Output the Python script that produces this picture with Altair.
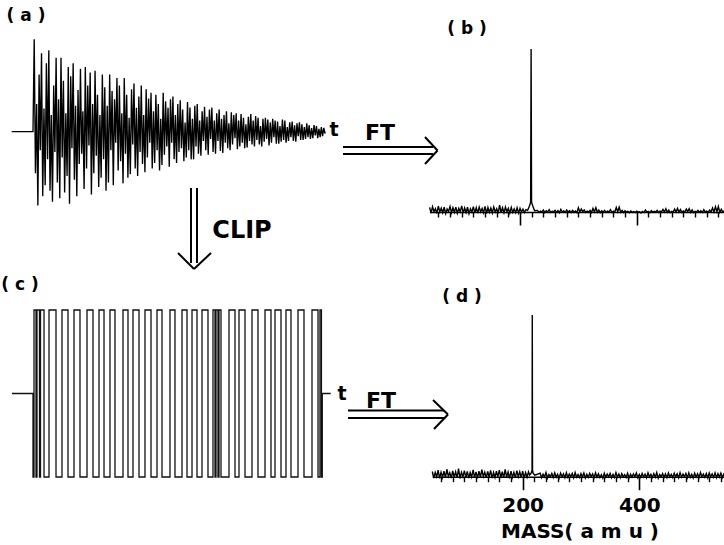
import altair as alt
import pandas as pd

FONT = "DejaVu Sans"

# ---------------- (a) time-domain transient (arbitrary amplitude units) ----------------
sig_a = [
    100, -45, 30, -80, 62, -20, 85, -70, 25, -58,
    74, -30, 88, -64, 18, -76, 50, -22, 80, -55,
    35, -72, 80, -28, 55, -66, 20, -48, 70, -78,
    60, -18, 74, -52, 28, -70, 45, -35, 68, -24,
    22, -62, 70, -40, 50, -15, 64, -68, 30, -45,
    66, -26, 40, -60, 18, -50, 62, -30, 48, -64,
    28, -55, 62, -20, 44, -58, 35, -12, 58, -42,
    50, -32, 20, -56, 58, -24, 40, -50, 15, -46,
    46, -14, 52, -40, 26, -48, 38, -22, 50, -35,
    18, -44, 46, -28, 36, -12, 42, -40, 22, -34,
    40, -20, 30, -42, 14, -36, 42, -25, 33, -16,
    26, -38, 35, -12, 38, -30, 18, -34, 30, -22,
    34, -18, 24, -32, 10, -28, 32, -20, 26, -30,
    14, -30, 28, -16, 30, -24, 12, -26, 22, -10,
    27, -20, 16, -25, 24, -8, 26, -22, 12, -24,
    20, -10, 24, -21, 14, -23, 18, -12, 22, -18,
    9, -20, 21, -14, 18, -7, 20, -19, 12, -16,
    19, -12, 15, -18, 8, -17, 16, -10, 19, -14,
    12, -16, 17, -9, 15, -14, 6, -16, 14, -11,
    15, -8, 13, -15, 10, -12, 14, -6, 12, -13,
    11, -13, 6, -11, 13, -9, 12, -12, 5, -10,
    10, -6, 11, -10, 7, -11, 9, -5, 10, -9,
    8, -9, 5, -8, 9, -6, 7, -8, 4, -7,
    7, -4, 6, -7, 3, -6, 5, -5, 4, -2,
]
sig_step = 100.0 / len(sig_a)
sig_t = [sig_step * (i + 1) for i in range(len(sig_a))]
stub_start_t = -7.3

# ---------------- (c) clipped signal: rising / falling edge times ----------------
clip_up = [0.35, 1.38, 2.6, 5.54, 10.03, 14.19, 18.69, 22.84, 26.64, 31.14, 34.6,
           38.75, 42.91, 47.4, 51.56, 55.02, 58.48, 62.28, 63.32, 64.36, 67.82,
           71.28, 75.78, 80.28, 83.74, 87.54, 91.7, 96.54, 99.3]
clip_down = [1.04, 2.25, 3.81, 7.96, 12.11, 16.26, 20.76, 24.57, 28.37, 32.87, 36.68,
             40.83, 44.64, 49.13, 53.29, 56.75, 60.55, 62.98, 64.01, 65.05, 69.9,
             73.36, 77.85, 82.35, 85.81, 89.27, 93.77, 98.62, 99.8]
clip_end_t = 100.1
clip_stub_end_t = 103.0

# ---------------- (b) and (d) spectra (mass in amu, intensity in % of peak) ----------------
mass_hi_left = list(range(45, 211, 5))
mass_lo_left = [m + 2.5 for m in range(45, 208, 5)]
mass_hi_right = list(range(230, 551, 5))
mass_lo_right = [m + 2.5 for m in range(230, 546, 5)]

b_hi_left = [2.8, 3.2, 2.0, 3.6, 2.4, 3.0, 1.8, 3.4, 2.6, 3.0, 2.2, 3.8, 2.5, 2.9, 2.0, 3.3,
             2.7, 3.0, 2.2, 3.5, 2.8, 2.4, 3.1, 2.0, 4.2, 2.6, 3.0, 2.3, 2.8, 1.9, 2.6, 2.2,
             1.8, 1.5]
b_lo_left = [-0.6, 0.2, -0.9, 0.0, -0.4, -1.0, 0.3, -0.5, -0.2, -0.8, 0.1, -0.6, -0.3, -1.0,
             0.0, -0.5, -0.7, 0.2, -0.4, -0.9, -0.1, -0.6, 0.0, -0.8, -0.3, -0.5, 0.1, -0.7,
             -0.2, -0.4, -0.6, 0.0, -0.3]
b_peak_mass = [213, 216, 218.2, 219, 219.8, 222, 225]
b_peak_int = [1.0, 3.5, 6.0, 100, 6.0, 3.5, 0.8]
b_hi_right = [1.0, 0.6, 1.2, 0.8, 1.4, 0.5, 1.0, 0.9, 1.6, 0.7,
              1.2, 0.8, 1.0, 0.6, 2.6, 1.8, 1.3, 0.6, 1.0, 2.2,
              2.6, 1.2, 0.8, 1.0, 0.6, 1.4, 0.5, 2.8, 3.0, 1.0,
              0.8, 0.4, 0.6, 0.3, 0.5, 0.2, 0.4, 1.2, 0.3, 0.8,
              0.4, 1.0, 0.6, 1.6, 2.0, 1.2, 0.4, 1.8, 2.2, 1.5,
              0.6, 1.8, 2.0, 1.3, 0.4, 1.0, 0.8, 1.4, 0.6, 1.2,
              2.4, 3.2, 3.4, 1.6, 0.8]
b_lo_right = [-0.2, 0.1, -0.4, 0.0, -0.3, 0.2, -0.1, -0.5, 0.0, -0.2,
              0.1, -0.3, 0.0, -0.4, 0.0, 0.2, -0.2, 0.0, -0.3, 0.1,
              -0.1, -0.4, 0.0, -0.2, 0.1, -0.3, 0.0, 0.2, -0.1, -0.3,
              0.0, -0.5, -0.2, -0.4, -0.1, -0.6, -0.3, 0.0, -0.4, -0.2,
              0.0, -0.3, 0.1, 0.0, -0.2, -0.4, 0.0, 0.1, -0.1, -0.3,
              0.0, 0.2, -0.2, -0.4, 0.0, -0.1, -0.3, 0.0, -0.2, 0.1,
              0.0, 0.2, -0.2, -0.1]

d_hi_left = [3.2, 2.6, 4.0, 2.8, 3.4, 4.6, 2.5, 3.6, 3.0, 5.0, 2.7, 3.8, 3.2, 2.6, 4.2, 3.0,
             3.5, 4.4, 2.8, 3.3, 3.9, 2.6, 3.4, 4.0, 3.1, 4.6, 2.9, 3.5, 2.7, 3.8, 3.0, 3.4,
             2.6, 3.0]
d_lo_left = [-0.8, 0.0, -1.0, -0.4, -0.6, 0.2, -0.9, -0.3, -0.7, -1.1, 0.0, -0.5, -0.8, -0.2,
             -0.6, -1.0, -0.4, 0.1, -0.7, -0.3, -0.9, -0.5, 0.0, -0.8, -0.6, -0.2, -1.0, -0.4,
             -0.7, 0.0, -0.5, -0.8, -0.3]
d_peak_mass = [212, 215, 216.1, 216.5, 216.9, 218, 221]
d_peak_int = [1.0, 2.5, 4.0, 100, 4.0, 2.0, 1.0]
d_hi_right = [2.2, 1.6, 2.6, 1.4, 2.0, 2.4, 1.5, 2.2, 1.8, 2.5,
              1.6, 2.0, 2.6, 1.4, 1.9, 2.3, 1.5, 2.1, 1.7, 2.4,
              1.8, 1.3, 2.2, 1.6, 2.0, 1.4, 2.5, 1.7, 1.9, 1.3,
              2.1, 1.5, 1.8, 2.3, 1.4, 2.0, 1.6, 2.4, 1.5, 1.9,
              2.6, 1.4, 2.0, 1.7, 2.3, 1.5, 2.1, 1.8, 2.5, 1.6,
              2.0, 2.4, 1.5, 2.2, 1.8, 2.6, 1.6, 2.0, 2.3, 1.7,
              2.4, 1.9, 2.2, 1.6, 2.0]
d_lo_right = [-0.6, -0.2, -0.8, 0.0, -0.5, -0.3, -0.9, -0.1, -0.6, -0.4,
              0.0, -0.7, -0.3, -0.5, -0.1, -0.8, -0.4, 0.0, -0.6, -0.2,
              -0.5, -0.9, -0.3, 0.0, -0.7, -0.4, -0.2, -0.6, -0.1, -0.5,
              -0.8, -0.3, 0.0, -0.6, -0.4, -0.2, -0.7, -0.1, -0.5, -0.3,
              -0.9, 0.0, -0.4, -0.6, -0.2, -0.5, -0.1, -0.7, -0.3, 0.0,
              -0.6, -0.4, -0.8, -0.2, -0.5, 0.0, -0.3, -0.7, -0.1, -0.4,
              -0.6, -0.2, -0.5, -0.3]

major_ticks = [200, 400]
minor_ticks = [m for m in range(60, 541, 20) if m not in major_ticks]

# ---------------- data frames ----------------
df_a = pd.DataFrame({
    "t": [stub_start_t, 0.0] + sig_t + [100.0],
    "a": [0, 0] + sig_a + [0],
})

events = sorted([(t, 1) for t in clip_up] + [(t, -1) for t in clip_down])
clip_t = [stub_start_t, 0.0] + [e[0] for e in events] + [clip_end_t, clip_stub_end_t]
clip_v = [0, -1] + [e[1] for e in events] + [0, 0]
df_c = pd.DataFrame({"t": clip_t, "v": clip_v})


def spec_df(hi_l, lo_l, pk_m, pk_i, hi_r, lo_r):
    m = mass_hi_left + mass_lo_left + pk_m + mass_hi_right + mass_lo_right
    v = hi_l + lo_l + pk_i + hi_r + lo_r
    return pd.DataFrame({"m": m, "v": v}).sort_values("m")


df_b = spec_df(b_hi_left, b_lo_left, b_peak_mass, b_peak_int, b_hi_right, b_lo_right)
df_d = spec_df(d_hi_left, d_lo_left, d_peak_mass, d_peak_int, d_hi_right, d_lo_right)
one = pd.DataFrame({"k": [0]})


def sc(domain, rng):
    return alt.Scale(domain=domain, range=rng, nice=False, zero=False)


sigA = alt.Chart(df_a).mark_line(color="black", strokeWidth=1.35).encode(
    x=alt.X("t:Q", scale=sc([0, 100], [33, 325]), axis=None),
    y=alt.Y("a:Q", scale=sc([-100, 100], [224, 39.3]), axis=None),
)

clipC = alt.Chart(df_c).mark_line(color="#111111", strokeWidth=1.3, interpolate="step-after").encode(
    x=alt.X("t:Q", scale=sc([0, 100], [33, 322]), axis=None),
    y=alt.Y("v:Q", scale=sc([-1, 1], [477, 310]), axis=None),
)

label_expr = "datum.value == 200 ? '200' : (datum.value == 400 ? '400' : '')"


def spectrum(df, xr, yr, offset, with_labels):
    xscale = sc([45, 550], xr)
    yscale = sc([0, 100], yr)
    major_axis = alt.Axis(
        orient="bottom", offset=offset, values=major_ticks, tickSize=13, tickWidth=1.6,
        tickColor="black", domainColor="black", domainWidth=1.4, grid=False,
        labels=with_labels, labelExpr=label_expr, labelFont=FONT, labelFontWeight="bold",
        labelFontSize=20, labelColor="black", labelPadding=6,
        title="MASS( a m u )" if with_labels else None,
        titleFont=FONT, titleFontWeight="bold", titleFontSize=20, titleColor="black",
        titlePadding=6,
    )
    minor_axis = alt.Axis(
        orient="bottom", offset=offset, values=minor_ticks, tickSize=5, tickWidth=1.4,
        tickColor="black", domain=False, grid=False, labels=False, title=None,
    )
    line = alt.Chart(df).mark_line(color="black", strokeWidth=1.4).encode(
        x=alt.X("m:Q", scale=xscale, axis=major_axis),
        y=alt.Y("v:Q", scale=yscale, axis=None),
    )
    minor = alt.Chart(df).mark_point(opacity=0).encode(
        x=alt.X("m:Q", scale=xscale, axis=minor_axis),
        y=alt.Y("v:Q", scale=yscale, axis=None),
    )
    return [minor, line]


specB = spectrum(df_b, [429.6, 724.2], [212, 49], 212 - 545, False)
specD = spectrum(df_d, [432.3, 726.7], [476.7, 315], 476.7 - 545, True)


def txt(s, x, y, size):
    return alt.Chart(one).mark_text(
        text=s, font=FONT, fontSize=size, fontWeight="bold", align="center",
        baseline="middle", color="black",
    ).encode(x=alt.value(x), y=alt.value(y))


def seg(x1, y1, x2, y2, w=2.0):
    return alt.Chart(one).mark_rule(color="black", strokeWidth=w).encode(
        x=alt.value(x1), y=alt.value(y1), x2=alt.value(x2), y2=alt.value(y2)
    )


annotations = [
    txt("( a )", 26, 16, 17),
    txt("( b )", 467, 29, 17),
    txt("( c )", 20, 285, 17),
    txt("( d )", 462, 297, 17),
    txt("t", 334, 130, 19),
    txt("t", 342, 394, 19),
    txt("FT", 380, 133, 22),
    txt("FT", 381, 401, 22),
    txt("CLIP", 242, 231, 24),
    # top FT arrow
    seg(343, 147, 433, 147), seg(343, 154, 433, 154),
    seg(425, 137, 437.5, 150.5), seg(437.5, 150.5, 425, 164),
    # bottom FT arrow
    seg(348, 410.5, 444, 410.5), seg(348, 418, 444, 418),
    seg(433, 400, 448, 414.5), seg(448, 414.5, 434, 429),
    # CLIP arrow
    seg(191, 188, 191, 263), seg(197, 188, 197, 263),
    seg(178, 253, 194, 269), seg(194, 269, 211, 253),
]

chart = alt.layer(
    sigA, clipC, *specB, *specD, *annotations
).resolve_scale(
    x="independent", y="independent"
).properties(
    width=724, height=545, autosize=alt.AutoSizeParams(type="none"), padding=0,
    background="white",
).configure_view(stroke=None)

chart.save("out.html", embed_options={"renderer": "svg", "actions": False})
